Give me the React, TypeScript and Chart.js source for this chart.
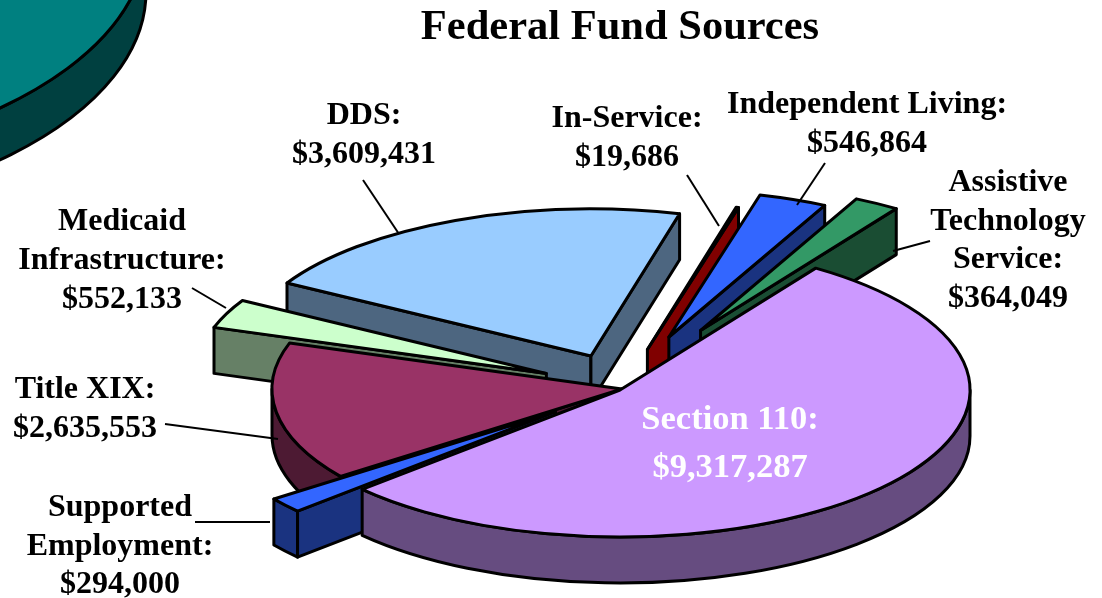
import React, { useEffect, useRef } from "react";
import { Chart, registerables } from "chart.js";

Chart.register(...registerables);

const titleText = "Federal Fund Sources";
const categories = [
  ["Section 110:"],
  ["Supported", "Employment:"],
  ["Title XIX:"],
  ["Medicaid", "Infrastructure:"],
  ["DDS:"],
  ["In-Service:"],
  ["Independent Living:"],
  ["Assistive", "Technology", "Service:"],
];
const fundValues = [9317287, 294000, 2635553, 552133, 3609431, 19686, 546864, 364049];
const neighbourValues = [1];

const topColors = ["#CC99FF", "#3366FF", "#993366", "#CCFFCC", "#99CCFF", "#800000", "#3366FF", "#339966"];
const wallColors = ["#664C80", "#1A3380", "#4D1A33", "#668066", "#4D6680", "#800000", "#1A3380", "#1A4D33"];
const explode = [0, 85, 0, 85, 88, 95, 135, 164];
const nudgeX = [0, 1, 2, 4, 5, 3, 1, -2];
const nudgeY = [0, -1, -1, -2, 0, -2, 0, 0];
const drawOrder = [5, 6, 7, 4, 3, 2, 1, 0];

const pieBox = { x: 620, y: 390, rx: 350, ry: 147, depth: 46 };
const neighbourBox = { x: -315, y: -60, rx: 461, ry: 230, depth: 52 };

const labelSpots = [
  { x: 730, y: 420, step: 48, color: "#FFFFFF", size: 34.5 },
  { x: 120, y: 508, step: 38.5, color: "#000000", size: 32 },
  { x: 85, y: 390, step: 38.5, color: "#000000", size: 32 },
  { x: 122, y: 222, step: 39, color: "#000000", size: 32 },
  { x: 364, y: 116, step: 38.5, color: "#000000", size: 32 },
  { x: 627, y: 119, step: 39, color: "#000000", size: 32 },
  { x: 867, y: 105, step: 38.5, color: "#000000", size: 32 },
  { x: 1008, y: 183, step: 38.5, color: "#000000", size: 32 },
];
const leaderLines = [
  [195, 522, 270, 522],
  [165, 424, 278, 439],
  [192, 288, 226, 308],
  [363, 180, 399, 234],
  [687, 175, 719, 226],
  [825, 163, 797, 205],
  [930, 241, 893, 251],
];

function sliceWalls(ctx: CanvasRenderingContext2D, x: number, y: number, box: any, start: number, end: number, wall: string) {
  const tau = Math.PI * 2;
  const k = box.ry / box.rx;
  ctx.fillStyle = wall;
  for (let n = -1; n <= 1; n++) {
    const a = Math.max(start, n * tau);
    const b = Math.min(end, n * tau + Math.PI);
    if (b <= a) continue;
    ctx.beginPath();
    ctx.ellipse(x, y, box.rx, box.ry, 0, a, b);
    ctx.ellipse(x, y + box.depth, box.rx, box.ry, 0, b, a, true);
    ctx.closePath();
    ctx.fill();
    ctx.stroke();
  }
  if (end - start >= tau - 1e-6) return;
  const mid = (start + end) / 2;
  const mx = x + (box.rx / 2) * Math.cos(mid);
  const my = y + (box.rx / 2) * k * Math.sin(mid);
  for (const ang of [start, end]) {
    const px = x + box.rx * Math.cos(ang);
    const py = y + box.ry * Math.sin(ang);
    const lineY = y + ((py - y) * (mx - x)) / (px - x);
    if (my > lineY) continue;
    ctx.beginPath();
    ctx.moveTo(x, y);
    ctx.lineTo(px, py);
    ctx.lineTo(px, py + box.depth);
    ctx.lineTo(x, y + box.depth);
    ctx.closePath();
    ctx.fill();
    ctx.stroke();
  }
}

function sliceTop(ctx: CanvasRenderingContext2D, x: number, y: number, box: any, start: number, end: number, top: string) {
  ctx.fillStyle = top;
  ctx.beginPath();
  if (end - start < Math.PI * 2 - 1e-6) ctx.moveTo(x, y);
  ctx.ellipse(x, y, box.rx, box.ry, 0, start, end);
  ctx.closePath();
  ctx.fill();
  ctx.stroke();
}

const piePainter = {
  id: "piePainter",
  beforeDatasetsDraw(chart: any) {
    const ctx: CanvasRenderingContext2D = chart.ctx;
    ctx.save();
    ctx.strokeStyle = "#000000";
    ctx.lineWidth = 3;
    ctx.lineJoin = "round";

    const nArc = chart.getDatasetMeta(1).data[0];
    sliceWalls(ctx, neighbourBox.x, neighbourBox.y, neighbourBox, nArc.startAngle, nArc.endAngle, "#004040");
    sliceTop(ctx, neighbourBox.x, neighbourBox.y, neighbourBox, nArc.startAngle, nArc.endAngle, "#008080");

    const arcs = chart.getDatasetMeta(0).data;
    const k = pieBox.ry / pieBox.rx;
    for (const i of drawOrder) {
      const arc = arcs[i];
      const mid = (arc.startAngle + arc.endAngle) / 2;
      const ax = pieBox.x + explode[i] * Math.cos(mid) + nudgeX[i];
      const ay = pieBox.y + explode[i] * k * Math.sin(mid) + nudgeY[i];
      sliceWalls(ctx, ax, ay, pieBox, arc.startAngle, arc.endAngle, wallColors[i]);
      sliceTop(ctx, ax, ay, pieBox, arc.startAngle, arc.endAngle, topColors[i]);
    }

    ctx.lineWidth = 2;
    ctx.lineCap = "butt";
    for (const [x1, y1, x2, y2] of leaderLines) {
      ctx.beginPath();
      ctx.moveTo(x1, y1);
      ctx.lineTo(x2, y2);
      ctx.stroke();
    }

    ctx.textAlign = "center";
    ctx.textBaseline = "middle";
    categories.forEach((cat, i) => {
      const spot = labelSpots[i];
      const lines = [...cat, "$" + fundValues[i].toLocaleString("en-US")];
      ctx.font = `bold ${spot.size}px 'Liberation Serif'`;
      ctx.fillStyle = spot.color;
      lines.forEach((line, j) => ctx.fillText(line, spot.x, spot.y + j * spot.step));
    });
    ctx.restore();
    return false;
  },
};

export default function App() {
  const ref = useRef<HTMLCanvasElement | null>(null);
  useEffect(() => {
    const chart = new Chart(ref.current as HTMLCanvasElement, {
      type: "pie",
      data: {
        labels: categories.map((c) => c.join(" ")),
        datasets: [
          { data: fundValues, backgroundColor: topColors },
          { data: neighbourValues, backgroundColor: ["#008080"] },
        ],
      },
      options: {
        responsive: false,
        animation: false,
        rotation: 34,
        layout: { padding: { left: 138 } },
        plugins: {
          legend: { display: false },
          tooltip: { enabled: false },
          title: {
            display: true,
            text: titleText,
            fullSize: false,
            color: "#000000",
            font: { family: "'Liberation Serif'", weight: "bold", size: 42.5 },
            padding: { top: 3, bottom: 0 },
          },
        },
      },
      plugins: [piePainter],
    } as any);
    return () => chart.destroy();
  }, []);
  return (
    <div style={{ position: "absolute", left: 0, top: 0, width: 1102, height: 598, background: "#FFFFFF" }}>
      <canvas ref={ref} width={1102} height={598} style={{ display: "block" }} />
    </div>
  );
}
